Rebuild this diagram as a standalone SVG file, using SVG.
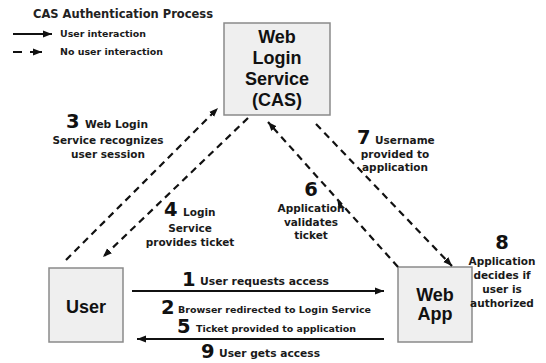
<svg xmlns="http://www.w3.org/2000/svg" width="546" height="363" viewBox="0 0 546 363">
  <style>
    .box { fill: #efefef; stroke: #8a8a8a; stroke-width: 1.5; }
    .node { font-family: "Liberation Sans", Arial, sans-serif; font-weight: bold; font-size: 18px; fill: #111; text-anchor: middle; }
    .lbl { font-family: "DejaVu Sans", Verdana, sans-serif; font-weight: bold; font-size: 10.5px; fill: #1a1a1a; }
    .sm { font-size: 9px; }
    .num { font-family: "DejaVu Sans", Verdana, sans-serif; font-weight: bold; font-size: 19.5px; fill: #111; }
    .mid { text-anchor: middle; }
    .solid { stroke: #111; stroke-width: 2; fill: none; }
    .dash { stroke: #111; stroke-width: 2.2; fill: none; stroke-dasharray: 7 5; }
    .title { font-family: "DejaVu Sans", Verdana, sans-serif; font-weight: bold; font-size: 12px; fill: #222; }
  </style>
  <defs>
    <marker id="head" markerUnits="userSpaceOnUse" markerWidth="10" markerHeight="10" viewBox="0 0 10 10" refX="9" refY="5" orient="auto">
      <path d="M0,1.5 L9,5 L0,8.5 Z" fill="#111"/>
    </marker>
  </defs>

  <rect width="546" height="363" fill="#ffffff"/>

  <!-- title and legend -->
  <g id="legend">
    <text class="title" x="33" y="18" textLength="180" lengthAdjust="spacingAndGlyphs">CAS Authentication Process</text>
    <line class="solid" x1="13" y1="34" x2="52" y2="34" marker-end="url(#head)"/>
    <text class="lbl sm" x="60" y="37" textLength="86" lengthAdjust="spacingAndGlyphs">User interaction</text>
    <line x1="13" y1="52" x2="22" y2="52" stroke="#111" stroke-width="2"/>
    <line x1="30" y1="52" x2="42" y2="52" stroke="#111" stroke-width="2" marker-end="url(#head)"/>
    <text class="lbl sm" x="60" y="55" textLength="103" lengthAdjust="spacingAndGlyphs">No user interaction</text>
  </g>

  <!-- nodes -->
  <g id="cas">
    <rect class="box" x="224" y="23" width="106" height="92"/>
    <text class="node" x="277" y="43">Web</text>
    <text class="node" x="277" y="64">Login</text>
    <text class="node" x="277" y="85">Service</text>
    <text class="node" x="277" y="106">(CAS)</text>
  </g>
  <g id="user">
    <rect class="box" x="49" y="268" width="74" height="74"/>
    <text class="node" x="86" y="313">User</text>
  </g>
  <g id="webapp">
    <rect class="box" x="398" y="267" width="74" height="75"/>
    <text class="node" x="435" y="301">Web</text>
    <text class="node" x="435" y="320">App</text>
  </g>

  <!-- connectors -->
  <g id="connectors">
    <line class="dash" x1="66" y1="260" x2="218" y2="108" marker-end="url(#head)"/>
    <line class="dash" x1="248" y1="118" x2="103" y2="257" marker-end="url(#head)"/>
    <line class="dash" x1="398" y1="267" x2="268" y2="122" marker-end="url(#head)"/>
    <path d="M337.5,200.5 L345,208 L338.5,208.5 Z" fill="#111"/>
    <line class="dash" x1="316" y1="124" x2="452" y2="266" marker-end="url(#head)"/>
    <line class="solid" x1="132" y1="291" x2="384" y2="291" marker-end="url(#head)"/>
    <line class="solid" x1="384" y1="339" x2="137" y2="339" marker-end="url(#head)"/>
  </g>

  <!-- step labels -->
  <g id="labels">
    <text class="num" x="66" y="128">3</text>
    <text class="lbl" x="85" y="128" textLength="63" lengthAdjust="spacingAndGlyphs">Web Login</text>
    <text class="lbl mid" x="108" y="144">Service recognizes</text>
    <text class="lbl mid" x="108" y="158">user session</text>

    <text class="num" x="164" y="216">4</text>
    <text class="lbl" x="183" y="216">Login</text>
    <text class="lbl mid" x="190" y="232">Service</text>
    <text class="lbl mid" x="190" y="246">provides ticket</text>

    <text class="num mid" x="311" y="196">6</text>
    <text class="lbl mid" x="311" y="212">Application</text>
    <text class="lbl mid" x="311" y="226">validates</text>
    <text class="lbl mid" x="311" y="239">ticket</text>

    <text class="num" x="357" y="144">7</text>
    <text class="lbl" x="375" y="144">Username</text>
    <text class="lbl mid" x="395" y="158">provided to</text>
    <text class="lbl mid" x="395" y="171">application</text>

    <text class="num mid" x="502" y="249">8</text>
    <text class="lbl mid" x="502" y="265">Application</text>
    <text class="lbl mid" x="502" y="279">decides if</text>
    <text class="lbl mid" x="502" y="293">user is</text>
    <text class="lbl mid" x="502" y="307">authorized</text>

    <text class="num" x="182" y="286">1</text>
    <text class="lbl" x="200" y="285" textLength="129" lengthAdjust="spacingAndGlyphs">User requests access</text>
    <text class="num" x="161" y="314">2</text>
    <text class="lbl sm" x="178" y="313" textLength="193" lengthAdjust="spacingAndGlyphs">Browser redirected to Login Service</text>
    <text class="num" x="177" y="333">5</text>
    <text class="lbl sm" x="196" y="332" textLength="160" lengthAdjust="spacingAndGlyphs">Ticket provided to application</text>
    <text class="num" x="201" y="358">9</text>
    <text class="lbl" x="219" y="357" textLength="101" lengthAdjust="spacingAndGlyphs">User gets access</text>
  </g>
</svg>
